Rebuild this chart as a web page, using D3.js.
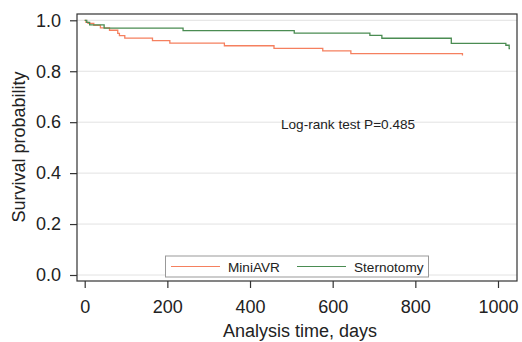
<!DOCTYPE html>
<html>
<head>
<meta charset="utf-8">
<script src="https://cdn.jsdelivr.net/npm/d3@7"></script>
<style>
  body { margin: 0; background: #fff; }
  text { font-family: "Liberation Sans", Arial, sans-serif; fill: #222; }
</style>
</head>
<body>
<div id="chart"></div>
<script>
// Kaplan-Meier steps: [day, survival]
const miniAVR = [
  [0, 1.0], [3, 0.992], [8, 0.988], [22, 0.980], [38, 0.970], [60, 0.961],
  [80, 0.949], [84, 0.940], [97, 0.930], [164, 0.920], [206, 0.910],
  [338, 0.900], [458, 0.890], [576, 0.880], [644, 0.869], [914, 0.862]
];
const sternotomy = [
  [0, 1.0], [5, 0.992], [12, 0.982], [47, 0.969], [238, 0.9595],
  [507, 0.950], [690, 0.941], [719, 0.9295], [887, 0.9097],
  [1019, 0.902], [1027, 0.889], [1029, 0.889]
];
const seriesNames = ['MiniAVR', 'Sternotomy'];
const seriesColors = ['#f5805f', '#4a8c52'];
const xTicks = [0, 200, 400, 600, 800, 1000];
const yTicks = [0, 0.2, 0.4, 0.6, 0.8, 1.0];

const width = 522, height = 342;
const frame = { left: 77, right: 517, top: 14, bottom: 281 };

const svg = d3.select('#chart').append('svg')
  .attr('width', width)
  .attr('height', height);

const x = d3.scaleLinear().domain([0, 1000]).range([84.7, 498]);
const y = d3.scaleLinear().domain([0, 1]).range([275, 20.3]);

// gridlines
svg.append('g')
  .selectAll('line')
  .data(yTicks)
  .enter().append('line')
  .attr('x1', frame.left).attr('x2', frame.right)
  .attr('y1', d => y(d)).attr('y2', d => y(d))
  .attr('stroke', '#e2e2e2')
  .attr('stroke-width', 1);

// frame
svg.append('rect')
  .attr('x', frame.left).attr('y', frame.top)
  .attr('width', frame.right - frame.left)
  .attr('height', frame.bottom - frame.top)
  .attr('fill', 'none')
  .attr('stroke', '#333')
  .attr('stroke-width', 1.2);

// axes
const yAxis = svg.append('g')
  .attr('transform', `translate(${frame.left},0)`)
  .call(d3.axisLeft(y).tickValues(yTicks).tickFormat(d3.format('.1f')).tickSize(7).tickPadding(9));
const xAxis = svg.append('g')
  .attr('transform', `translate(0,${frame.bottom})`)
  .call(d3.axisBottom(x).tickValues(xTicks).tickFormat(d3.format('d')).tickSize(7).tickPadding(12));
[xAxis, yAxis].forEach(a => {
  a.select('.domain').remove();
  a.selectAll('.tick line').attr('stroke', '#333').attr('stroke-width', 1.2);
  a.selectAll('.tick text')
    .attr('font-size', 18)
    .style('font-family', '"Liberation Sans", Arial, sans-serif')
    .attr('fill', '#222');
});

// survival curves
const line = d3.line()
  .x(d => x(d[0]))
  .y(d => y(d[1]))
  .curve(d3.curveStepAfter);

[miniAVR, sternotomy].forEach((s, i) => {
  svg.append('path')
    .datum(s)
    .attr('d', line)
    .attr('fill', 'none')
    .attr('stroke', seriesColors[i])
    .attr('stroke-width', 1.3);
});

// axis titles
svg.append('text')
  .attr('x', 300).attr('y', 337)
  .attr('text-anchor', 'middle')
  .attr('font-size', 18)
  .text('Analysis time, days');

svg.append('text')
  .attr('transform', 'translate(25,147) rotate(-90)')
  .attr('text-anchor', 'middle')
  .attr('font-size', 18)
  .text('Survival probability');

// annotation
svg.append('text')
  .attr('x', 281).attr('y', 128.5)
  .attr('font-size', 13.6)
  .text('Log-rank test P=0.485');

// legend
const legend = svg.append('g');
legend.append('rect')
  .attr('x', 165.5).attr('y', 256)
  .attr('width', 263).attr('height', 21)
  .attr('fill', '#fff')
  .attr('stroke', '#999')
  .attr('stroke-width', 1);
const legendX = [171, 297];
seriesNames.forEach((name, i) => {
  legend.append('line')
    .attr('x1', legendX[i]).attr('x2', legendX[i] + 49)
    .attr('y1', 266.5).attr('y2', 266.5)
    .attr('stroke', seriesColors[i])
    .attr('stroke-width', 1.2);
  legend.append('text')
    .attr('x', legendX[i] + 57).attr('y', 271.5)
    .attr('font-size', 13.6)
    .text(name);
});
</script>
</body>
</html>
